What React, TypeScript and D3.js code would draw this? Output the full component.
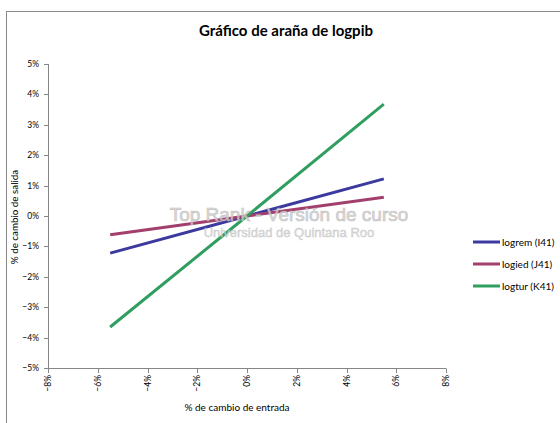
import React from "react";
import * as d3 from "d3";

const inputChange = [-0.055, 0, 0.055];
const logrem = [-0.0122, 0, 0.0122];
const logied = [-0.0062, 0, 0.0062];
const logtur = [-0.0365, 0, 0.0368];
const seriesNames = ["logrem (I41)", "logied (J41)", "logtur (K41)"];
const seriesColors = ["#3C3A9E", "#A23F6C", "#2F9E5F"];
const xTicks = [-0.08, -0.06, -0.04, -0.02, 0, 0.02, 0.04, 0.06, 0.08];
const yTicks = [0.05, 0.04, 0.03, 0.02, 0.01, 0, -0.01, -0.02, -0.03, -0.04, -0.05];

const FONT = "Lato, 'Open Sans', sans-serif";

export default function App() {
  const x = d3.scaleLinear().domain([-0.08, 0.08]).range([48, 446]);
  const y = d3.scaleLinear().domain([-0.05, 0.05]).range([368, 64]);
  const fmt = d3.format(".0%");
  const all = [logrem, logied, logtur];
  const line = d3
    .line<[number, number]>()
    .x((d) => x(d[0]))
    .y((d) => y(d[1]));
  const legendY = [242, 264, 286];
  return (
    <svg
      width={560}
      height={423}
      style={{ position: "absolute", left: 0, top: 0, background: "#fff" }}
      fontFamily={FONT}
    >
      <rect x={6.5} y={11.5} width={600} height={500} fill="#fff" stroke="#8a8a8a" strokeWidth={1} />
      <text x={286} y={36} textAnchor="middle" fontSize={15} fontWeight="bold" fill="#000">
        Gráfico de araña de logpib
      </text>
      {/* y axis */}
      <line x1={48.5} x2={48.5} y1={y(0.05)} y2={y(-0.05)} stroke="#868686" />
      {yTicks.map((t) => (
        <g key={"y" + t}>
          <line x1={44} x2={48.5} y1={Math.round(y(t)) + 0.5} y2={Math.round(y(t)) + 0.5} stroke="#868686" />
          <text x={39} y={y(t) + 3} textAnchor="end" fontSize={8.5} fill="#000">
            {fmt(t)}
          </text>
        </g>
      ))}
      {/* x axis */}
      <line x1={x(-0.08)} x2={x(0.08)} y1={368.5} y2={368.5} stroke="#868686" />
      {xTicks.map((t) => (
        <g key={"x" + t}>
          <line x1={Math.round(x(t)) + 0.5} x2={Math.round(x(t)) + 0.5} y1={368.5} y2={373} stroke="#868686" />
          <text
            transform={`translate(${x(t) + 3},${375}) rotate(-90)`}
            textAnchor="end"
            fontSize={8.5}
            fill="#000"
          >
            {fmt(t)}
          </text>
        </g>
      ))}
      <text
        transform={`translate(18,217) rotate(-90)`}
        textAnchor="middle"
        fontSize={9.8}
        fill="#000"
      >
        % de cambio de salida
      </text>
      <text x={237} y={411} textAnchor="middle" fontSize={10} fill="#000">
        % de cambio de entrada
      </text>
      {all.map((s, i) => (
        <path
          key={i}
          d={line(inputChange.map((v, j) => [v, s[j]] as [number, number])) || ""}
          fill="none"
          stroke={seriesColors[i]}
          strokeWidth={3}
        />
      ))}
      <text x={289} y={221} textAnchor="middle" fontFamily="'Liberation Sans', Arial, sans-serif" fontSize={19}
        fill="#d4d4d4" stroke="#b8b8b8" strokeWidth={0.6} opacity={0.85}>
        Top Rank - Versión de curso
      </text>
      <text x={289} y={237} textAnchor="middle" fontFamily="'Liberation Sans', Arial, sans-serif" fontSize={13}
        fill="#d8d8d8" stroke="#bcbcbc" strokeWidth={0.4} opacity={0.85}>
        Universidad  de Quintana Roo
      </text>
      {seriesNames.map((n, i) => (
        <g key={n}>
          <line x1={473} x2={500} y1={legendY[i]} y2={legendY[i]} stroke={seriesColors[i]} strokeWidth={3} />
          <text x={502} y={legendY[i] + 3.5} fontSize={10} fill="#000">
            {n}
          </text>
        </g>
      ))}
    </svg>
  );
}
